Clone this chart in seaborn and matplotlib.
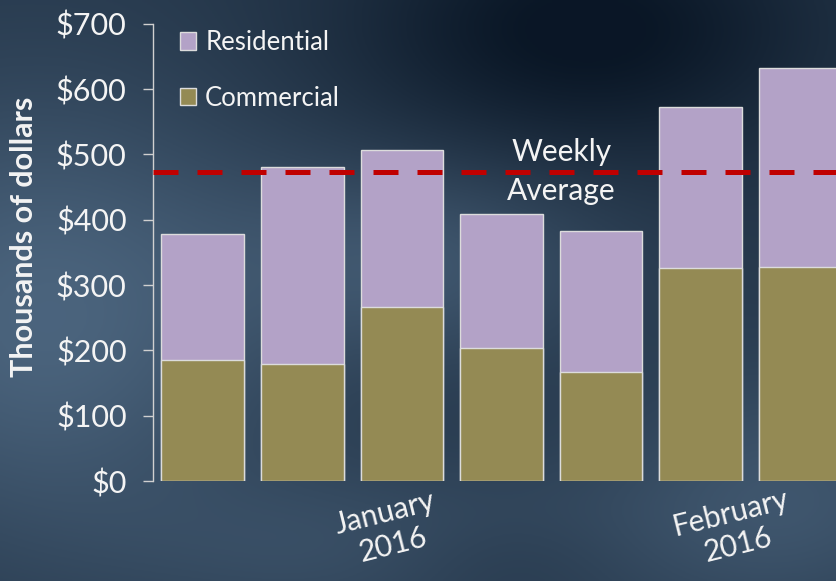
import numpy as np
import pandas as pd
import matplotlib
matplotlib.use('Agg')
import matplotlib.pyplot as plt
import seaborn as sns
from matplotlib.ticker import FuncFormatter

# weekly sales, thousands of dollars
weeks = ['W1', 'W2', 'W3', 'W4', 'W5', 'W6', 'W7']
commercial = [185, 179, 266, 204, 167, 326, 328]
total = [378, 481, 507, 409, 383, 573, 632]
weekly_average = 473
month_labels = ['January\n2016', 'February\n2016']
month_pos = [1.87, 5.34]

df = pd.DataFrame({'week': weeks, 'commercial': commercial, 'total': total})

sns.set_theme(style='white')
plt.rcParams['font.family'] = ['Lato', 'DejaVu Sans']
txt = '#f4f4f4'

fig = plt.figure(figsize=(8.36, 5.81), dpi=100)

# dark blue backdrop
bg = fig.add_axes([0, 0, 1, 1], zorder=-5)
gx, gy = np.meshgrid(np.linspace(0, 1, 300), np.linspace(0, 1, 220))
light = (0.55 * np.exp(-((gx - 0.05) ** 2 / 0.08 + (gy - 0.55) ** 2 / 0.15))
         + 0.35 * np.exp(-((gx - 0.5) ** 2 / 0.05 + (gy - 0.45) ** 2 / 0.03))
         + 0.30 * np.exp(-((gx - 0.5) ** 2 / 0.1 + (gy - 0.95) ** 2 / 0.02))
         + 0.35 * np.exp(-((gx - 0.95) ** 2 / 0.05 + (gy - 0.85) ** 2 / 0.05)))
dark = (np.exp(-((gx - 0.7) ** 2 / 0.08 + (gy - 0.05) ** 2 / 0.05))
        + 0.4 * np.exp(-((gx - 0.6) ** 2 / 0.03 + (gy - 0.97) ** 2 / 0.01)))
shade = np.clip(0.42 + light - 0.45 * dark, 0, 1)
c0 = np.array([0.04, 0.09, 0.15])
c1 = np.array([0.30, 0.40, 0.50])
img = c0 + shade[..., None] * (c1 - c0)
bg.imshow(img, aspect='auto', extent=[0, 1, 0, 1], origin='upper')
bg.axis('off')

ax = fig.add_axes([0.183, 0.172, 0.817, 0.787])
ax.patch.set_alpha(0)

sns.barplot(data=df, x='week', y='total', color='#b3a2c7', saturation=1,
            width=0.83, edgecolor='#dcdcdc', linewidth=1, ax=ax, label='Residential')
sns.barplot(data=df, x='week', y='commercial', color='#948a54', saturation=1,
            width=0.83, edgecolor='#dcdcdc', linewidth=1, ax=ax, label='Commercial')

ax.axhline(weekly_average, color='#c00000', lw=3.6, dashes=(5.0, 3.8), zorder=5)
ax.text(3.6, weekly_average + 31, 'Weekly', color=txt, fontsize=21.5,
        ha='center', va='center')
ax.text(3.6, weekly_average - 29, 'Average', color=txt, fontsize=21.5,
        ha='center', va='center')

for lab, xp in zip(month_labels, month_pos):
    ax.text(xp, -0.105, lab, transform=ax.get_xaxis_transform(), color=txt,
            fontsize=21.5, ha='center', va='center', rotation=14,
            multialignment='center', linespacing=1.2)

ax.set_xlim(-0.5, 6.36)
ax.set_ylim(0, 700)
ax.set_yticks(range(0, 701, 100))
ax.yaxis.set_major_formatter(FuncFormatter(lambda v, p: f'${v:.0f}'))
ax.set_xticks([])
ax.set_xlabel('')
ax.set_ylabel('Thousands of dollars', color=txt, fontsize=22, fontweight='bold')
ax.yaxis.set_label_coords(-0.168, 0.535)
ax.tick_params(axis='y', colors='#d0d0d0', labelcolor=txt, labelsize=22,
               length=7, width=1, direction='out', left=True, pad=12)

for s in ['top', 'right', 'bottom']:
    ax.spines[s].set_visible(False)
ax.spines['left'].set_color('#d0d0d0')
ax.spines['left'].set_linewidth(1)

leg = ax.legend(loc='upper left', bbox_to_anchor=(0.005, 1.037), frameon=False,
                fontsize=18.5, labelcolor=txt, labelspacing=1.2,
                handlelength=0.65, handleheight=0.65, handletextpad=0.35)

fig.savefig('out.png', dpi=100)
